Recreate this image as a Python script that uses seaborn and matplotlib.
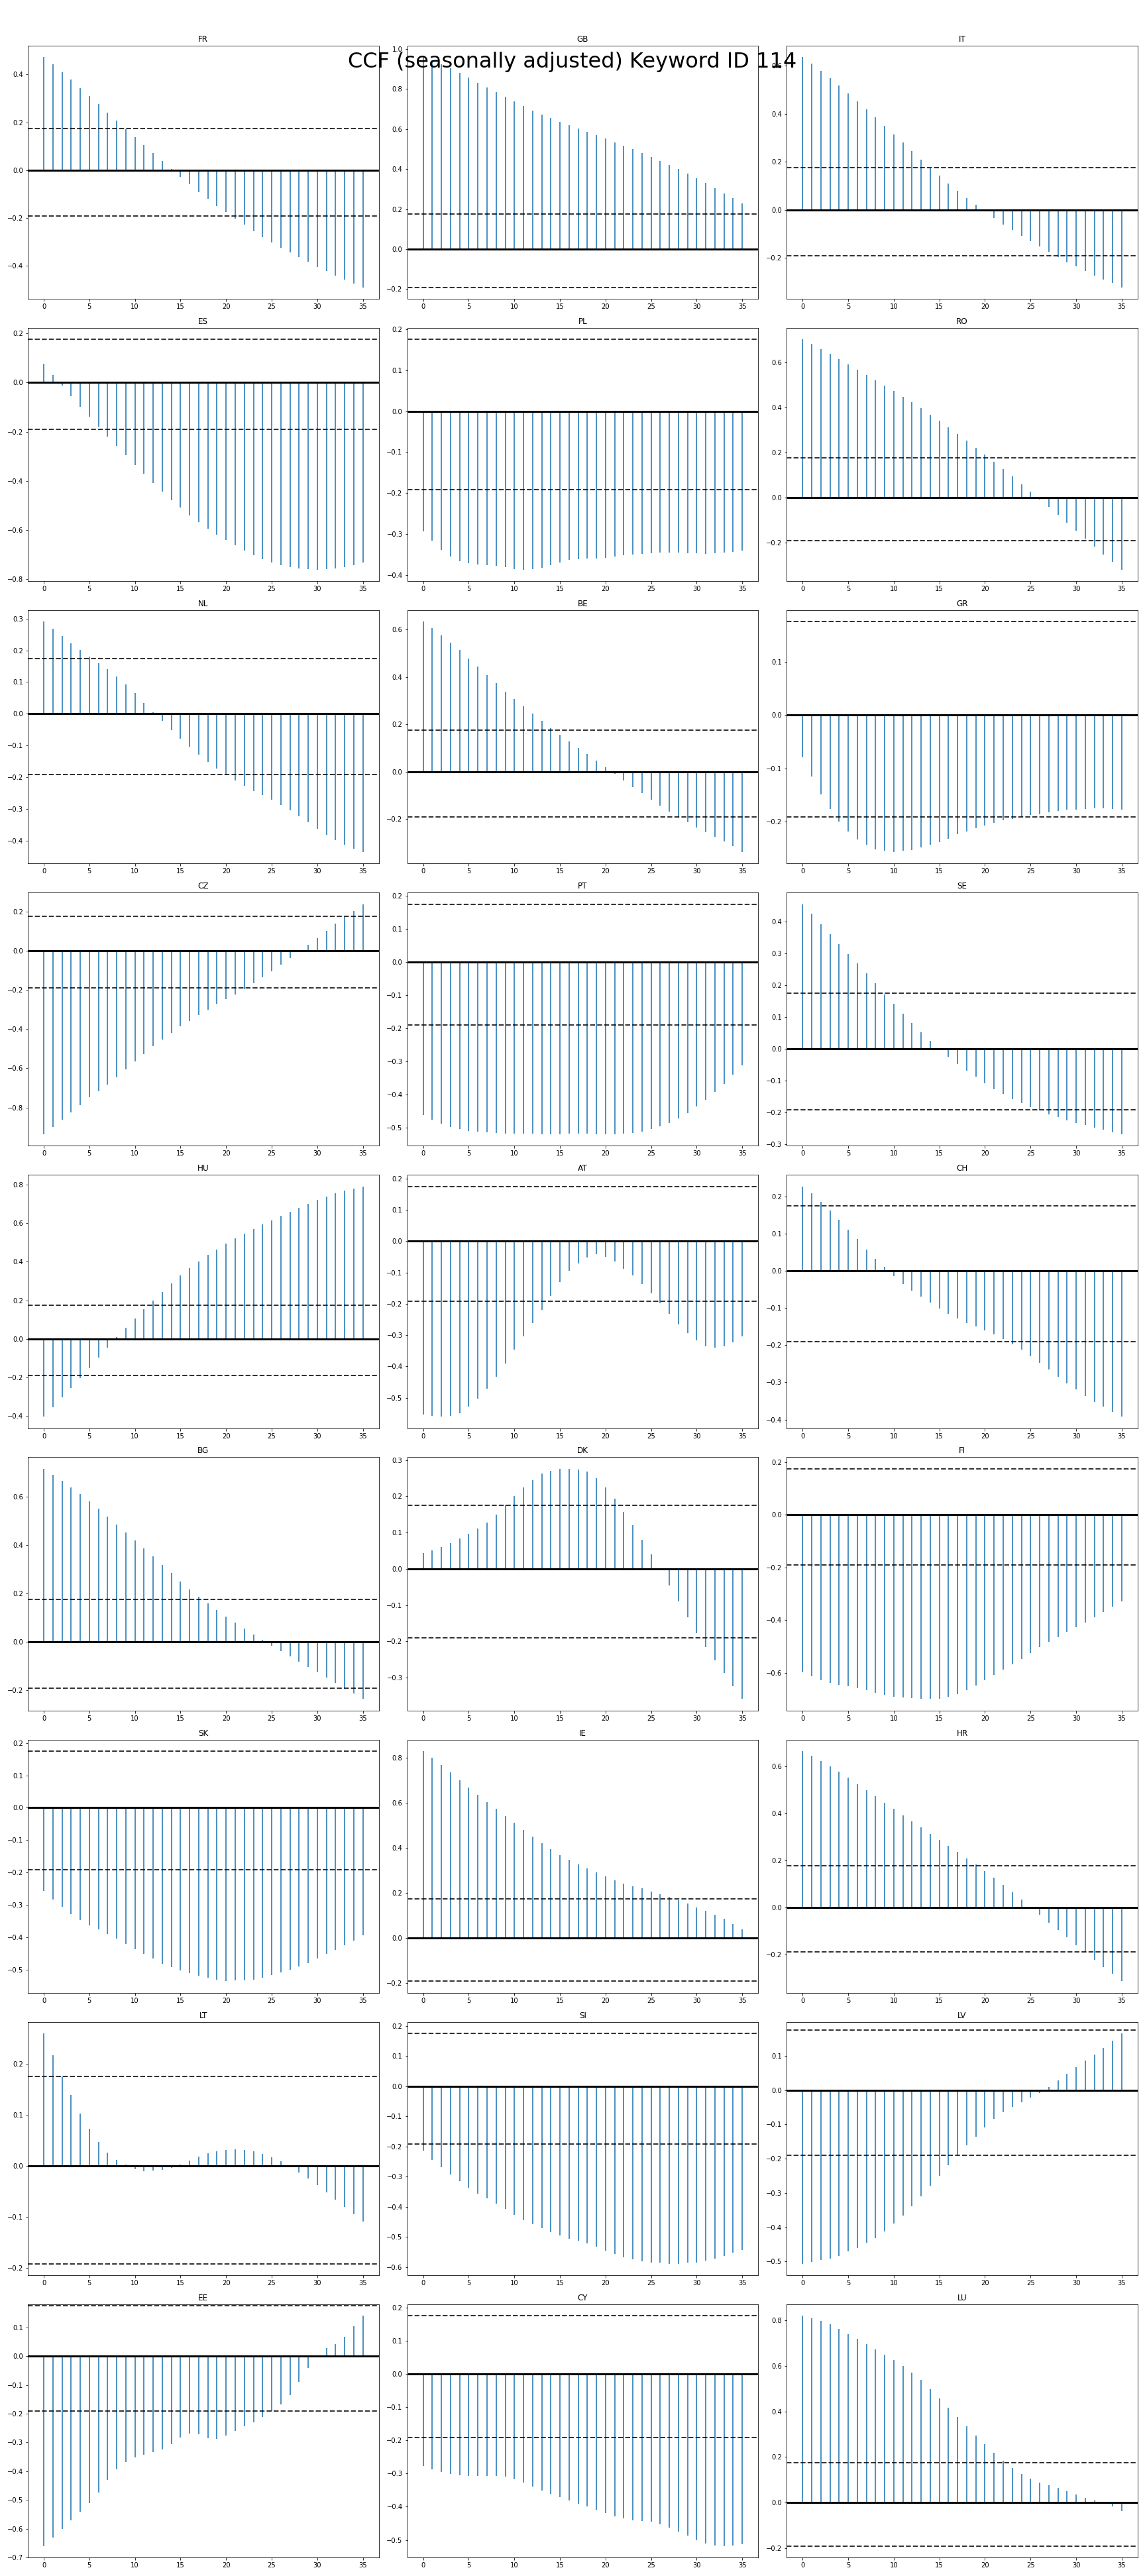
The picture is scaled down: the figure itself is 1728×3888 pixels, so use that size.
import numpy as np
import matplotlib
matplotlib.use("Agg")
import matplotlib.pyplot as plt
import seaborn as sns

# lags and confidence bounds
lags = np.arange(36)
conf_upper = 0.175
conf_lower = -0.191

countries = ["FR", "GB", "IT", "ES", "PL", "RO", "NL", "BE", "GR",
             "CZ", "PT", "SE", "HU", "AT", "CH", "BG", "DK", "FI",
             "SK", "IE", "HR", "LT", "SI", "LV", "EE", "CY", "LU"]

FR = [0.472, 0.441, 0.408, 0.378, 0.342, 0.309, 0.276, 0.240, 0.206, 0.172,
      0.137, 0.104, 0.071, 0.038, 0.005, -0.028, -0.058, -0.091, -0.119, -0.149,
      -0.175, -0.203, -0.227, -0.254, -0.279, -0.301, -0.323, -0.343, -0.362, -0.382,
      -0.404, -0.420, -0.440, -0.456, -0.473, -0.489]
GB = [0.960, 0.945, 0.925, 0.905, 0.882, 0.859, 0.832, 0.809, 0.785, 0.762,
      0.738, 0.716, 0.693, 0.673, 0.656, 0.636, 0.620, 0.602, 0.586, 0.569,
      0.552, 0.533, 0.516, 0.499, 0.479, 0.460, 0.441, 0.421, 0.400, 0.377,
      0.354, 0.331, 0.305, 0.278, 0.254, 0.228]
IT = [0.636, 0.608, 0.578, 0.548, 0.517, 0.484, 0.451, 0.418, 0.385, 0.349,
      0.313, 0.280, 0.244, 0.209, 0.173, 0.142, 0.109, 0.079, 0.049, 0.021,
      -0.006, -0.033, -0.061, -0.085, -0.108, -0.132, -0.154, -0.176, -0.196, -0.218,
      -0.237, -0.254, -0.273, -0.290, -0.306, -0.323]
ES = [0.075, 0.030, -0.013, -0.057, -0.100, -0.140, -0.180, -0.221, -0.258, -0.296,
      -0.336, -0.371, -0.409, -0.444, -0.479, -0.509, -0.541, -0.568, -0.595, -0.619,
      -0.640, -0.662, -0.683, -0.702, -0.718, -0.732, -0.743, -0.751, -0.756, -0.759,
      -0.761, -0.759, -0.756, -0.751, -0.743, -0.732]
PL = [-0.294, -0.316, -0.339, -0.355, -0.366, -0.371, -0.374, -0.376, -0.377, -0.381,
      -0.385, -0.387, -0.385, -0.382, -0.376, -0.369, -0.363, -0.361, -0.360, -0.360,
      -0.358, -0.355, -0.352, -0.350, -0.348, -0.347, -0.345, -0.345, -0.345, -0.347,
      -0.347, -0.348, -0.347, -0.345, -0.344, -0.340]
RO = [0.702, 0.681, 0.660, 0.637, 0.614, 0.590, 0.567, 0.543, 0.520, 0.496,
      0.473, 0.446, 0.423, 0.396, 0.367, 0.341, 0.311, 0.282, 0.252, 0.220,
      0.191, 0.159, 0.126, 0.094, 0.059, 0.026, -0.009, -0.041, -0.076, -0.112,
      -0.147, -0.182, -0.217, -0.252, -0.285, -0.320]
NL = [0.290, 0.267, 0.246, 0.223, 0.202, 0.181, 0.160, 0.140, 0.117, 0.092,
      0.065, 0.035, 0.006, -0.023, -0.052, -0.079, -0.104, -0.129, -0.152, -0.173,
      -0.192, -0.210, -0.227, -0.244, -0.256, -0.271, -0.288, -0.304, -0.323, -0.342,
      -0.363, -0.381, -0.398, -0.413, -0.425, -0.435]
BE = [0.633, 0.606, 0.575, 0.544, 0.513, 0.477, 0.444, 0.407, 0.374, 0.338,
      0.307, 0.276, 0.246, 0.215, 0.184, 0.156, 0.128, 0.100, 0.075, 0.047,
      0.020, -0.008, -0.036, -0.064, -0.089, -0.117, -0.142, -0.167, -0.193, -0.212,
      -0.234, -0.254, -0.273, -0.293, -0.313, -0.338]
GR = [-0.079, -0.115, -0.149, -0.176, -0.200, -0.219, -0.233, -0.244, -0.252, -0.255,
      -0.257, -0.255, -0.253, -0.248, -0.243, -0.238, -0.232, -0.224, -0.218, -0.212,
      -0.207, -0.202, -0.198, -0.195, -0.191, -0.188, -0.186, -0.182, -0.180, -0.177,
      -0.177, -0.176, -0.175, -0.175, -0.176, -0.178]
CZ = [-0.936, -0.899, -0.862, -0.825, -0.788, -0.747, -0.717, -0.683, -0.646, -0.606,
      -0.565, -0.528, -0.488, -0.454, -0.420, -0.387, -0.360, -0.329, -0.302, -0.272,
      -0.248, -0.225, -0.198, -0.167, -0.137, -0.107, -0.073, -0.039, -0.006, 0.031,
      0.065, 0.102, 0.136, 0.173, 0.203, 0.237]
PT = [-0.463, -0.477, -0.489, -0.499, -0.505, -0.511, -0.513, -0.515, -0.517, -0.519,
      -0.519, -0.519, -0.519, -0.521, -0.521, -0.521, -0.519, -0.519, -0.519, -0.521,
      -0.521, -0.521, -0.519, -0.517, -0.513, -0.505, -0.497, -0.487, -0.473, -0.457,
      -0.437, -0.417, -0.393, -0.369, -0.340, -0.312]
SE = [0.455, 0.424, 0.392, 0.361, 0.330, 0.297, 0.268, 0.237, 0.206, 0.172,
      0.141, 0.110, 0.081, 0.052, 0.025, 0.001, -0.025, -0.048, -0.069, -0.087,
      -0.108, -0.127, -0.141, -0.158, -0.170, -0.183, -0.193, -0.206, -0.214, -0.224,
      -0.233, -0.239, -0.247, -0.253, -0.262, -0.268]
HU = [-0.403, -0.354, -0.303, -0.255, -0.203, -0.151, -0.096, -0.045, 0.010, 0.058,
      0.107, 0.155, 0.200, 0.244, 0.289, 0.330, 0.368, 0.403, 0.437, 0.464,
      0.495, 0.523, 0.547, 0.571, 0.595, 0.616, 0.640, 0.661, 0.681, 0.702,
      0.722, 0.740, 0.757, 0.771, 0.781, 0.791]
AT = [-0.554, -0.558, -0.560, -0.558, -0.549, -0.528, -0.503, -0.471, -0.433, -0.391,
      -0.346, -0.304, -0.262, -0.220, -0.175, -0.131, -0.095, -0.070, -0.051, -0.042,
      -0.049, -0.065, -0.087, -0.110, -0.137, -0.167, -0.199, -0.232, -0.266, -0.294,
      -0.317, -0.336, -0.340, -0.336, -0.323, -0.304]
CH = [0.227, 0.208, 0.186, 0.163, 0.138, 0.111, 0.085, 0.058, 0.033, 0.010,
      -0.014, -0.035, -0.053, -0.069, -0.085, -0.101, -0.115, -0.128, -0.140, -0.149,
      -0.160, -0.171, -0.183, -0.198, -0.212, -0.230, -0.248, -0.265, -0.285, -0.303,
      -0.319, -0.337, -0.353, -0.365, -0.380, -0.392]
BG = [0.714, 0.689, 0.665, 0.637, 0.610, 0.580, 0.550, 0.517, 0.484, 0.451,
      0.418, 0.386, 0.353, 0.317, 0.284, 0.249, 0.216, 0.186, 0.159, 0.131,
      0.104, 0.079, 0.055, 0.030, 0.008, -0.016, -0.038, -0.060, -0.082, -0.104,
      -0.126, -0.148, -0.170, -0.191, -0.213, -0.235]
DK = [0.044, 0.051, 0.060, 0.071, 0.084, 0.097, 0.112, 0.128, 0.150, 0.176,
      0.201, 0.225, 0.245, 0.262, 0.271, 0.276, 0.276, 0.274, 0.269, 0.251,
      0.225, 0.194, 0.157, 0.121, 0.080, 0.040, -0.001, -0.046, -0.090, -0.134,
      -0.177, -0.216, -0.252, -0.287, -0.324, -0.359]
FI = [-0.599, -0.614, -0.629, -0.639, -0.647, -0.652, -0.659, -0.667, -0.677, -0.685,
      -0.692, -0.695, -0.697, -0.700, -0.700, -0.700, -0.692, -0.682, -0.667, -0.649,
      -0.629, -0.609, -0.589, -0.569, -0.549, -0.526, -0.503, -0.483, -0.466, -0.445,
      -0.428, -0.410, -0.390, -0.370, -0.350, -0.330]
SK = [-0.257, -0.284, -0.306, -0.329, -0.347, -0.364, -0.376, -0.390, -0.405, -0.421,
      -0.438, -0.452, -0.466, -0.481, -0.493, -0.503, -0.511, -0.519, -0.526, -0.532,
      -0.536, -0.534, -0.534, -0.532, -0.526, -0.517, -0.509, -0.501, -0.491, -0.479,
      -0.466, -0.452, -0.440, -0.425, -0.411, -0.395]
IE = [0.829, 0.800, 0.768, 0.735, 0.700, 0.668, 0.635, 0.603, 0.574, 0.541,
      0.512, 0.479, 0.450, 0.421, 0.394, 0.368, 0.347, 0.326, 0.309, 0.291,
      0.274, 0.256, 0.241, 0.229, 0.221, 0.206, 0.194, 0.182, 0.168, 0.153,
      0.135, 0.121, 0.103, 0.085, 0.062, 0.038]
HR = [0.664, 0.644, 0.621, 0.599, 0.576, 0.551, 0.523, 0.498, 0.472, 0.444,
      0.419, 0.391, 0.366, 0.340, 0.312, 0.287, 0.261, 0.236, 0.208, 0.183,
      0.155, 0.127, 0.096, 0.065, 0.034, 0.003, -0.031, -0.065, -0.098, -0.129,
      -0.163, -0.191, -0.225, -0.256, -0.284, -0.315]
LT = [0.259, 0.216, 0.175, 0.138, 0.103, 0.072, 0.047, 0.026, 0.012, 0.002,
      -0.006, -0.010, -0.009, -0.008, -0.004, 0.003, 0.010, 0.018, 0.025, 0.028,
      0.031, 0.032, 0.031, 0.028, 0.023, 0.017, 0.009, 0.001, -0.013, -0.025,
      -0.038, -0.052, -0.066, -0.080, -0.094, -0.109]
SI = [-0.215, -0.244, -0.270, -0.294, -0.316, -0.338, -0.356, -0.373, -0.391, -0.408,
      -0.428, -0.444, -0.459, -0.472, -0.485, -0.496, -0.507, -0.514, -0.523, -0.534,
      -0.547, -0.558, -0.567, -0.575, -0.582, -0.586, -0.586, -0.589, -0.589, -0.586,
      -0.586, -0.580, -0.573, -0.564, -0.553, -0.545]
LV = [-0.506, -0.502, -0.496, -0.491, -0.483, -0.471, -0.460, -0.446, -0.431, -0.412,
      -0.390, -0.365, -0.338, -0.309, -0.280, -0.250, -0.219, -0.190, -0.161, -0.136,
      -0.109, -0.084, -0.064, -0.049, -0.035, -0.022, -0.008, 0.009, 0.028, 0.048,
      0.067, 0.086, 0.104, 0.123, 0.144, 0.165]
EE = [-0.660, -0.632, -0.600, -0.570, -0.540, -0.510, -0.474, -0.430, -0.393, -0.368,
      -0.351, -0.342, -0.333, -0.324, -0.305, -0.282, -0.269, -0.271, -0.285, -0.287,
      -0.276, -0.259, -0.243, -0.229, -0.211, -0.190, -0.167, -0.135, -0.089, -0.041,
      0.001, 0.028, 0.042, 0.068, 0.104, 0.141]
CY = [-0.277, -0.287, -0.295, -0.301, -0.305, -0.307, -0.307, -0.307, -0.307, -0.309,
      -0.317, -0.327, -0.339, -0.351, -0.361, -0.371, -0.382, -0.392, -0.400, -0.410,
      -0.418, -0.428, -0.434, -0.440, -0.442, -0.444, -0.452, -0.462, -0.474, -0.486,
      -0.500, -0.510, -0.516, -0.518, -0.516, -0.512]
LU = [0.821, 0.810, 0.798, 0.783, 0.763, 0.740, 0.719, 0.696, 0.673, 0.650,
      0.626, 0.600, 0.571, 0.539, 0.498, 0.457, 0.417, 0.376, 0.335, 0.294,
      0.256, 0.218, 0.183, 0.151, 0.125, 0.105, 0.087, 0.076, 0.064, 0.050,
      0.035, 0.020, 0.009, 0.000, -0.017, -0.038]

series = [FR, GB, IT, ES, PL, RO, NL, BE, GR, CZ, PT, SE, HU, AT, CH,
          BG, DK, FI, SK, IE, HR, LT, SI, LV, EE, CY, LU]

stem_color = sns.color_palette()[0]

fig, axes = plt.subplots(9, 3, figsize=(24, 54), dpi=72)
fig.subplots_adjust(left=0.0243, right=0.9936, top=0.9823, bottom=0.0072,
                    wspace=0.081, hspace=0.115)

for ax, name, vals in zip(axes.flat, countries, series):
    ax.vlines(lags, 0, vals, color=stem_color, alpha=0.8, lw=2)
    ax.axhline(0, color='k', lw=3)
    ax.axhline(conf_upper, color='k', alpha=0.8, ls='--', lw=2)
    ax.axhline(conf_lower, color='k', alpha=0.8, ls='--', lw=2)
    ax.set_title(name)

fig.suptitle('CCF (seasonally adjusted) Keyword ID 114', fontsize=32)
fig.savefig('out.png', dpi=72)
